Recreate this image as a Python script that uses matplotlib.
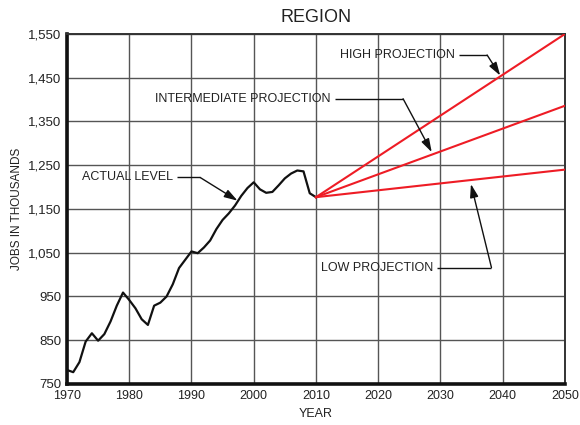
import numpy as np
import matplotlib
matplotlib.use('Agg')
import matplotlib.pyplot as plt

plt.rcParams['font.family'] = ['Liberation Sans', 'DejaVu Sans']

# actual employment, thousands of jobs
years = list(range(1970, 2011))
jobs = [782, 777, 800, 847, 866, 849, 864, 893, 929, 959,
        942, 923, 898, 885, 929, 936, 950, 978, 1015, 1034,
        1053, 1049, 1062, 1078, 1104, 1125, 1140, 1158, 1180, 1198,
        1211, 1195, 1187, 1189, 1204, 1220, 1231, 1238, 1236, 1186,
        1177]

# projections from 2010 to 2050
proj_years = [2010, 2050]
high = [1177, 1550]
intermediate = [1177, 1386]
low = [1177, 1240]

fig = plt.figure(figsize=(5.8, 4.25), dpi=100)
ax = fig.add_axes([0.1155, 0.0965, 0.8585, 0.8235])

ax.plot(years, jobs, color='#111111', lw=1.6, zorder=3)
red = '#ee1c25'
ax.plot(proj_years, high, color=red, lw=1.5, zorder=3)
ax.plot(proj_years, intermediate, color=red, lw=1.5, zorder=3)
ax.plot(proj_years, low, color=red, lw=1.5, zorder=3)

ax.set_xlim(1970, 2050)
ax.set_ylim(750, 1550)
ax.set_xticks(range(1970, 2051, 10))
ax.set_yticks(range(750, 1551, 100))
ax.set_yticklabels([f'{v:,}' for v in range(750, 1551, 100)])
ax.tick_params(length=0, labelsize=9, colors='#222222', pad=4)
ax.tick_params(axis='y', labelsize=9.5)
ax.grid(True, color='#555555', lw=1.0)
ax.set_axisbelow(True)

for s in ['left', 'bottom']:
    ax.spines[s].set_linewidth(2.6)
    ax.spines[s].set_color('#111111')
for s in ['top', 'right']:
    ax.spines[s].set_linewidth(1.4)
    ax.spines[s].set_color('#333333')

ax.set_title('REGION', fontsize=13, color='#222222', pad=9)
ax.set_xlabel('YEAR', fontsize=9, color='#222222', labelpad=5)
ax.set_ylabel('JOBS IN THOUSANDS', fontsize=8.5, color='#222222', labelpad=4)

arrow = dict(arrowstyle='-|>,head_length=0.8,head_width=0.25', color='#111111',
             lw=1.0, shrinkA=0, shrinkB=0)

# (label, text end point, corner point, arrow tip)
notes = [
    ('HIGH PROJECTION', (2032.3, 1502), (2037.5, 1502), (2039.6, 1455)),
    ('INTERMEDIATE PROJECTION', (2012.4, 1402), (2024.0, 1402), (2028.6, 1280)),
    ('ACTUAL LEVEL', (1987.0, 1222), (1991.4, 1222), (1997.4, 1169)),
    ('LOW PROJECTION', (2028.8, 1016), (2038.2, 1016), (2034.9, 1207)),
]
for label, txt, corner, tip in notes:
    ax.text(txt[0], txt[1], label, ha='right', va='center', fontsize=9,
            color='#222222', zorder=5)
    ax.plot([txt[0] + 0.7, corner[0]], [txt[1], corner[1]], color='#111111',
            lw=1.0, zorder=4, solid_capstyle='butt')
    ax.annotate('', xy=tip, xytext=corner, arrowprops=arrow, zorder=4)

fig.savefig('out.png', dpi=100)
